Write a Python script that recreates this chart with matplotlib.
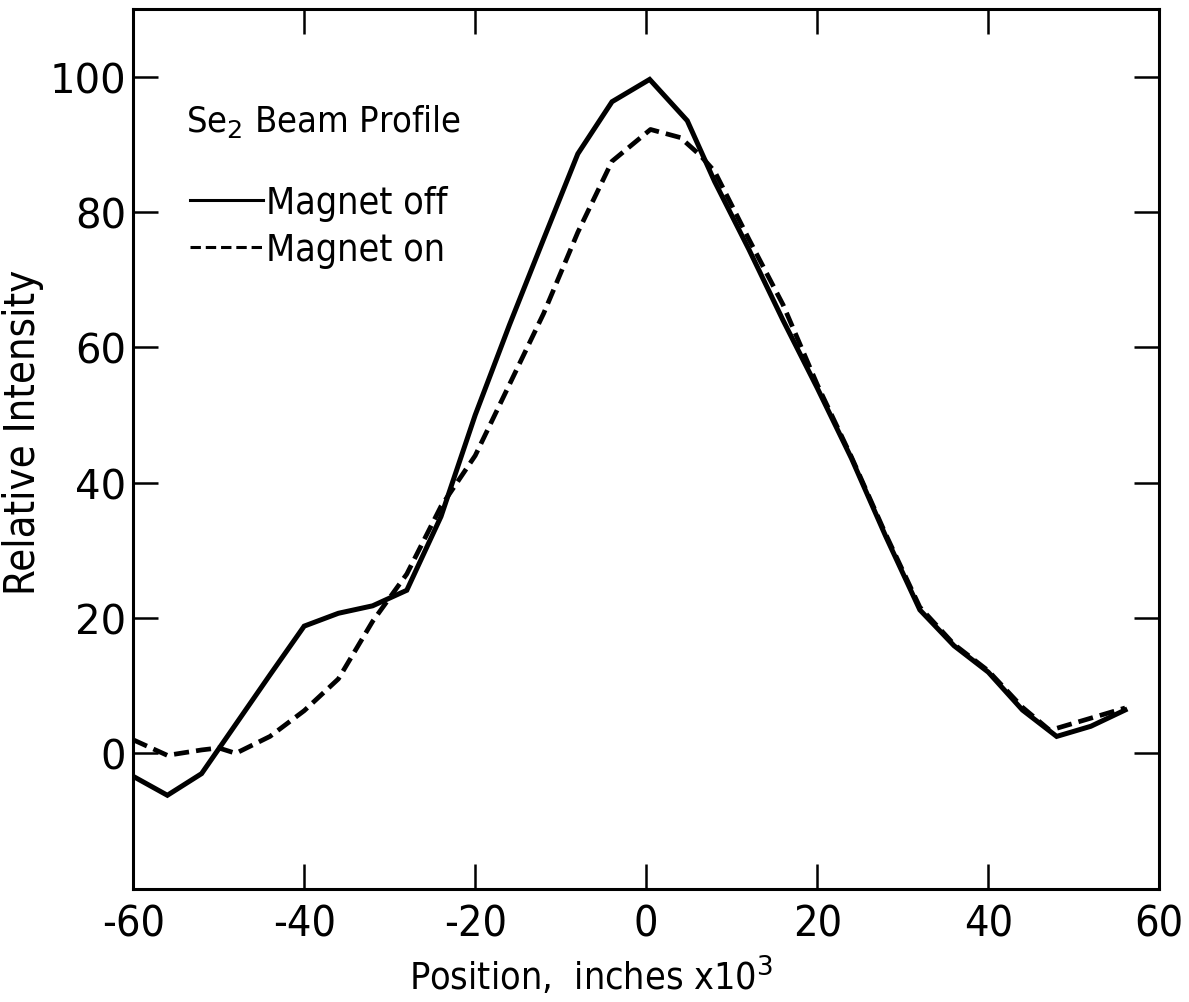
"""
Se2 beam profile, magnet off vs magnet on
"""

import matplotlib

matplotlib.use("Agg")
import matplotlib.pyplot as plt
from matplotlib.lines import Line2D

# ── Data ──────────────────────────────────────────────────────────────────────
pos_off = [-60, -56, -52, -48, -44, -40, -36, -32, -28, -24, -20, -16, -12, -8,
           -4, 0.4, 4.8, 8, 12, 16, 20, 24, 28, 32, 36, 40, 44, 48, 52, 56]
int_off = [-3.4, -6.2, -3.0, 4.3, 11.6, 18.8, 20.7, 21.8, 24.1, 35.0, 50.0,
           63.3, 76.0, 88.6, 96.3, 99.6, 93.5, 84.5, 74.5, 64.0, 54.0, 43.6,
           32.1, 21.2, 15.9, 12.0, 6.4, 2.5, 4.0, 6.4]

pos_on = [-60, -56, -52, -50, -48, -44, -40, -36, -32, -28, -24, -20, -16, -12,
          -8, -4, 0.5, 4, 6.3, 8, 12, 16, 20, 24, 28, 32, 36, 40, 44, 47.2,
          52, 56]
int_on = [2.0, -0.3, 0.5, 0.8, 0.0, 2.5, 6.3, 11.0, 19.5, 26.5, 36.5, 44.0,
          54.5, 65.0, 77.0, 87.5, 92.2, 91.0, 88.4, 86.0, 76.0, 66.3, 54.5,
          43.8, 32.4, 21.6, 16.1, 12.2, 6.8, 3.4, 5.2, 6.7]

x_ticks = [-60, -40, -20, 0, 20, 40, 60]
y_ticks = [0, 20, 40, 60, 80, 100]

# ── Style ─────────────────────────────────────────────────────────────────────
plt.rcParams["axes.unicode_minus"] = False
plt.rcParams["font.family"] = ["DejaVu Sans"]
COND = dict(fontstretch="condensed")

fig = plt.figure(figsize=(11.89, 10.03), dpi=100)
ax = fig.add_axes([0.112, 0.113, 0.863, 0.877])

ax.plot(pos_off, int_off, color="black", lw=3.6, solid_joinstyle="miter")
ax.plot(pos_on, int_on, color="black", lw=3.4, linestyle=(0, (3.2, 1.5)))

ax.set_xlim(-60, 60)
ax.set_ylim(-20, 110)
ax.set_xticks(x_ticks)
ax.set_yticks(y_ticks)
ax.set_xticklabels([str(t) for t in x_ticks], fontsize=31, **COND)
ax.set_yticklabels([str(t) for t in y_ticks], fontsize=29)

ax.tick_params(direction="in", length=18, width=1.8, top=True, right=True)
ax.tick_params(axis="x", pad=10)
ax.tick_params(axis="y", pad=5)
for sp in ax.spines.values():
    sp.set_linewidth(2.2)

ax.set_xlabel("Position,  inches x10$^3$", fontsize=27, **COND)
ax.xaxis.set_label_coords(0.446, -0.075)
ax.set_ylabel("Relative Intensity", fontsize=30, **COND)
ax.yaxis.set_label_coords(-0.087, 0.52)

# ── Annotation + legend ───────────────────────────────────────────────────────
ax.text(-53.8, 93.5, "Se$_2$ Beam Profile", fontsize=26, va="center", **COND)

handles = [
    Line2D([], [], color="black", lw=2.2),
    Line2D([], [], color="black", lw=2.2, linestyle=(0, (3.4, 1.6))),
]
ax.legend(handles, ["Magnet off", "Magnet on"], loc="upper left",
          bbox_to_anchor=(0.055, 0.8), frameon=False,
          prop=dict(size=27, stretch="condensed"),
          handlelength=1.95, handletextpad=0.1, labelspacing=0.3,
          borderpad=0, borderaxespad=0)

plt.savefig("out.png", dpi=100)
